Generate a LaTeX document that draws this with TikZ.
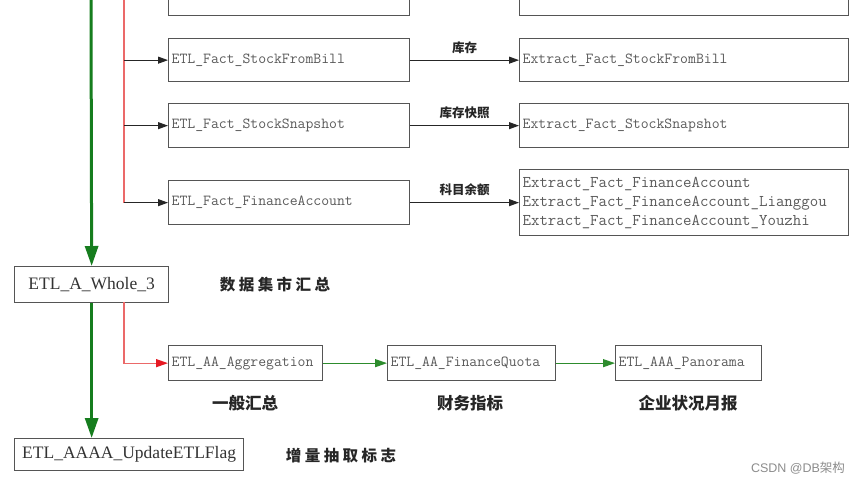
\documentclass[tikz,border=0pt]{standalone}
\usepackage{fontspec}
\setmainfont{Liberation Serif}
\setmonofont{Latin Modern Mono}
\newfontfamily\cjk{Noto Sans CJK SC}
\newfontfamily\cjkspaced[LetterSpace=22]{Noto Sans CJK SC}
\newfontfamily\wmfont{Liberation Sans}
\usetikzlibrary{arrows.meta}
\definecolor{gthick}{RGB}{22,125,30}
\definecolor{gthin}{RGB}{45,140,45}
\definecolor{rline}{RGB}{235,105,105}
\definecolor{rtip}{RGB}{230,25,35}
\definecolor{boxline}{RGB}{85,85,85}
\definecolor{boxtext}{RGB}{90,90,90}
\begin{document}
\begin{tikzpicture}[x=1pt,y=-1pt,
  box/.style={draw=boxline,line width=1.3pt,anchor=north west,inner xsep=3pt,inner ysep=0pt,
    align=left,text=boxtext,font=\ttfamily\fontsize{15.3}{19}\selectfont},
  sbox/.style={draw=boxline,line width=1.3pt,anchor=north west,inner sep=0pt,
    align=center,text=black!80,font=\fontsize{17.5}{20}\selectfont},
  blk/.style={draw=black!85,line width=1pt,-{Triangle[length=10pt,width=7pt]}},
  gbig/.style={draw=gthick,line width=3pt,-{Triangle[length=20pt,width=13pt]}},
  gsmall/.style={draw=gthin,line width=1.2pt,-{Triangle[length=12pt,width=8pt]}},
  rl/.style={draw=rline,line width=1.3pt},
  lbl/.style={font=\cjk\bfseries\fontsize{12.5}{14}\selectfont,text=black!85},
  sublbl/.style={font=\cjk\bfseries\fontsize{16.5}{18}\selectfont,text=black!85},
  seclbl/.style={font=\cjkspaced\bfseries\fontsize{15.5}{18}\selectfont,text=black!85}
]
\useasboundingbox (0,0) rectangle (860,483);
\clip (0,0) rectangle (860,483);
\fill[white] (0,0) rectangle (860,483);

% partial boxes at top
\node[box,minimum height=45pt,text width=235pt] (tl) at (168,-30) {};
\node[box,minimum height=45pt,text width=323pt] (tr) at (519,-30) {};

% fact boxes
\node[box,minimum height=43pt,text width=235pt] (fsb) at (168,38) {ETL\_Fact\_StockFromBill};
\node[box,minimum height=43pt,text width=323pt] (efsb) at (519,38) {Extract\_Fact\_StockFromBill};
\node[box,minimum height=44pt,text width=235pt] (fss) at (168,103) {ETL\_Fact\_StockSnapshot};
\node[box,minimum height=44pt,text width=323pt] (efss) at (519,103) {Extract\_Fact\_StockSnapshot};
\node[box,minimum height=44pt,text width=235pt] (ffa) at (168,180) {ETL\_Fact\_FinanceAccount};
\node[box,minimum height=66pt,text width=323pt,font=\ttfamily\fontsize{16.4}{19}\selectfont] (effa) at (519,169)
  {Extract\_Fact\_FinanceAccount\\Extract\_Fact\_FinanceAccount\_Lianggou\\Extract\_Fact\_FinanceAccount\_Youzhi};

% lower boxes
\node[sbox,minimum width=154pt,minimum height=36pt] (whole) at (14,266) {ETL\_A\_Whole\_3};
\node[sbox,minimum width=229pt,minimum height=32pt] (flag) at (14,438) {ETL\_AAAA\_UpdateETLFlag};
\node[box,minimum height=35pt,text width=148pt] (agg) at (168,345) {ETL\_AA\_Aggregation};
\node[box,minimum height=35pt,text width=162pt] (fq) at (387,345) {ETL\_AA\_FinanceQuota};
\node[box,minimum height=35pt,text width=140pt] (pan) at (615,345) {ETL\_AAA\_Panorama};

% labels
\node[seclbl] (l1) at (275,285) {数据集市汇总};
\node[seclbl] (l2) at (341,456) {增量抽取标志};
\node[sublbl] (s1) at (245,403) {一般汇总};
\node[sublbl] (s2) at (470,403) {财务指标};
\node[sublbl] (s3) at (688,403) {企业状况月报};
\node[font=\wmfont\fontsize{12.5}{14}\selectfont,text=black!45] (wm) at (798,468) {CSDN @DB{\cjk 架构}};

% trunk connectors
\coordinate (gtop) at (91,-5);
\coordinate (rtop) at (124,-5);
\coordinate (rbot) at (124,302);
\draw[gbig] (gtop) -- (whole.north);
\draw[gbig] (whole.south) -- (whole.south |- flag.north);
\draw[rl] (rtop) -- (rtop |- ffa.west);
\draw[blk] (rtop |- fsb.west) -- (fsb.west);
\draw[blk] (rtop |- fss.west) -- (fss.west);
\draw[blk] (rtop |- ffa.west) -- (ffa.west);

% horizontal arrows
\draw[blk] (fsb.east) -- node[lbl,above=3pt] (a1) {库存} (efsb.west);
\draw[blk] (fss.east) -- node[lbl,above=3pt] (a2) {库存快照} (efss.west);
\draw[blk] (ffa.east) -- node[lbl,above=3pt] (a3) {科目余额} (ffa.east -| effa.west);

% lower chain
\draw[rl,-{Triangle[length=12pt,width=8pt,color=rtip]}] (rbot) |- (agg.west);
\draw[gsmall] (agg.east) -- (fq.west);
\draw[gsmall] (fq.east) -- (pan.west);
\end{tikzpicture}
\end{document}
